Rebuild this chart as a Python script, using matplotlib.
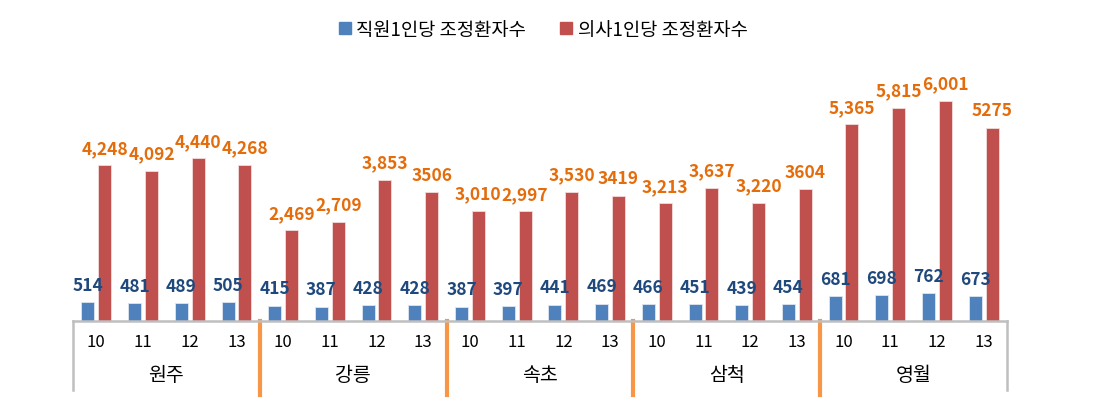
import matplotlib.pyplot as plt
from matplotlib.patches import Patch

plt.rcParams['font.family'] = ['Noto Sans CJK KR', 'DejaVu Sans']

# data
regions = ['원주', '강릉', '속초', '삼척', '영월']
years = ['10', '11', '12', '13']
staff = [514, 481, 489, 505,
         415, 387, 428, 428,
         387, 397, 441, 469,
         466, 451, 439, 454,
         681, 698, 762, 673]
doctor = [4248, 4092, 4440, 4268,
          2469, 2709, 3853, 3506,
          3010, 2997, 3530, 3419,
          3213, 3637, 3220, 3604,
          5365, 5815, 6001, 5275]
doctor_labels = ['4,248', '4,092', '4,440', '4,268',
                 '2,469', '2,709', '3,853', '3506',
                 '3,010', '2,997', '3,530', '3419',
                 '3,213', '3,637', '3,220', '3604',
                 '5,365', '5,815', '6,001', '5275']
series_names = ['직원1인당 조정환자수', '의사1인당 조정환자수']

blue = '#4F81BD'
red = '#C0504D'
gray = '#BFBFBF'
orange = '#F79646'

fig = plt.figure(figsize=(10.93, 4.14), dpi=100)
ax = fig.add_axes([73 / 1093, 92 / 414, 934 / 1093, 256.6 / 414])

n = len(staff)
x = list(range(n))
w = 0.28
off = 0.18
ax.bar([i - off for i in x], staff, width=w, color=blue, edgecolor='#dce6f1', linewidth=0.6)
ax.bar([i + off for i in x], doctor, width=w, color=red, edgecolor='#f2dcdb', linewidth=0.6)

# value labels
for i in x:
    ax.annotate(str(staff[i]), (i - off, staff[i]), xytext=(0, 12.5),
                textcoords='offset points', ha='center', va='center',
                fontsize=12.5, fontweight='bold', color='#1F497D')
    ax.annotate(doctor_labels[i], (i + off, doctor[i]), xytext=(0, 12.5),
                textcoords='offset points', ha='center', va='center',
                fontsize=12.5, fontweight='bold', color='#E46C0A')

ax.set_xlim(-0.5, n - 0.5)
ax.set_ylim(0, 7000)
ax.set_yticks([])
ax.set_xticks([])
for s in ['left', 'right', 'top']:
    ax.spines[s].set_visible(False)
ax.spines['bottom'].set_color(gray)
ax.spines['bottom'].set_linewidth(1.8)

# two-level category axis
tr = ax.get_xaxis_transform()
for i in x:
    ax.text(i, -0.078, years[i % 4], transform=tr, ha='center', va='center', fontsize=12)
for g, name in enumerate(regions):
    ax.text(g * 4 + 1.5, -0.21, name, transform=tr, ha='center', va='center', fontsize=14)

for xe in [-0.5, n - 0.5]:
    ax.plot([xe, xe], [0, -0.269], transform=tr, color=gray, lw=1.8, clip_on=False)
for xs in [3.5, 7.5, 11.5, 15.5]:
    ax.plot([xs, xs], [0, -0.288], transform=tr, color=orange, lw=3, clip_on=False)

handles = [Patch(color=blue), Patch(color=red)]
fig.legend(handles, series_names, loc='center', bbox_to_anchor=(0.497, 0.9275), ncol=2,
           frameon=False, fontsize=13.5, handlelength=0.65, handleheight=0.65,
           handletextpad=0.3, columnspacing=1.8)

plt.savefig('out.png')
